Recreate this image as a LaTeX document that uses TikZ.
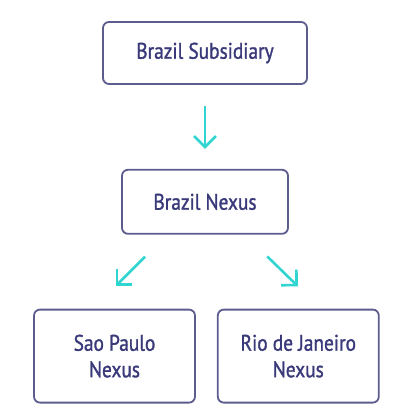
\documentclass[tikz,border=0pt]{standalone}
\usepackage{fontspec}
\setmainfont[FakeStretch=0.86, FakeBold=1.3]{PT Sans}
\usepackage{xcolor}
\usetikzlibrary{arrows.meta,positioning}

\definecolor{boxline}{HTML}{5C5C8E}
\definecolor{boxtext}{HTML}{3A3A7A}
\definecolor{arrowcyan}{HTML}{30D5D2}

\begin{document}
\begin{tikzpicture}[
    block/.style={rectangle, rounded corners=6pt, draw=boxline, line width=1.8pt, text=boxtext, align=center, font=\fontsize{22.5}{26.5}\selectfont, inner sep=0pt},
    leaf/.style={block, minimum width=161pt, minimum height=93pt},
    arr/.style={-{Straight Barb[length=11pt, width=22pt, line width=2.6pt]}, line width=2.6pt, draw=arrowcyan}
]
\useasboundingbox (0pt,0pt) rectangle (412pt,-420pt);

\node[block, minimum width=204pt, minimum height=62pt] (sub) at (205pt,-53pt) {Brazil Subsidiary};
\node[block, below=84pt of sub, minimum width=166pt, minimum height=64pt] (nexus) {Brazil Nexus};
\node[leaf, below=74pt of nexus, xshift=-90.5pt] (sp) {Sao Paulo\\Nexus};
\node[leaf, right=21pt of sp] (rj) {Rio de Janeiro\\Nexus};

\draw[arr, shorten <=21pt, shorten >=20pt] (sub.south) -- (nexus.north);
\draw[arr, shorten <=31pt, shorten >=32pt] ([xshift=-38pt]nexus.south) -- ([xshift=-21.5pt]sp.north);
\draw[arr, shorten <=31pt, shorten >=32pt] ([xshift=40pt]nexus.south) -- ([xshift=22.5pt]rj.north);
\end{tikzpicture}
\end{document}
